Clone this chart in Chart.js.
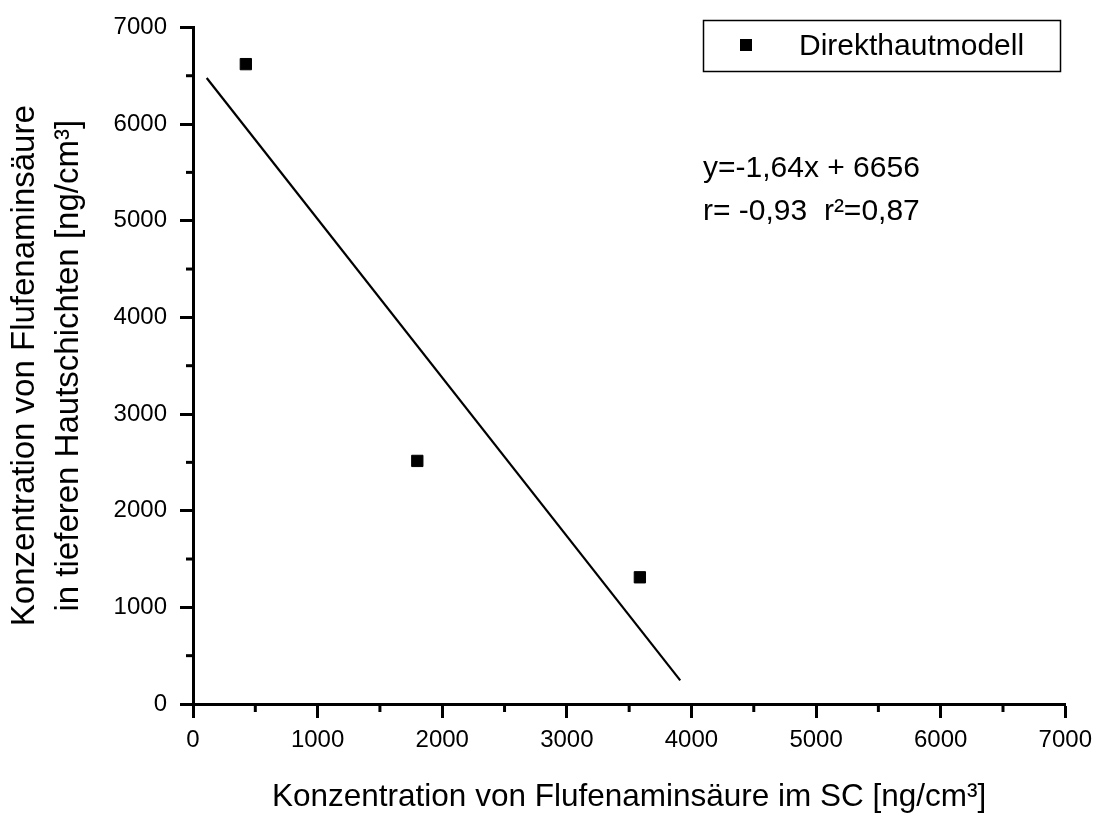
<!DOCTYPE html>
<html>
<head>
<meta charset="utf-8">
<script src="https://cdn.jsdelivr.net/npm/chart.js@4/dist/chart.umd.min.js"></script>
<style>
  html, body { margin: 0; padding: 0; background: #fff; }
  #wrap { width: 1100px; height: 816px; position: relative; }
</style>
</head>
<body>
<div id="wrap"><canvas id="c" width="1100" height="816"></canvas></div>
<script>
// ---- data ----
const seriesName = 'Direkthautmodell';
const xValues = [424, 1800, 3586];
const yValues = [6620, 2515, 1311];
const fitX = [110, 3910];
const fitY = [6476, 244];
const xTicks = [0, 1000, 2000, 3000, 4000, 5000, 6000, 7000];
const yTicks = [0, 1000, 2000, 3000, 4000, 5000, 6000, 7000];
const minorTicks = [500, 1500, 2500, 3500, 4500, 5500, 6500];
const equationLines = ['y=-1,64x + 6656', 'r= -0,93  r²=0,87'];
const xTitle = 'Konzentration von Flufenaminsäure im SC [ng/cm³]';
const yTitle = ['Konzentration von Flufenaminsäure', 'in tieferen Hautschichten [ng/cm³]'];

const FONT = '"Liberation Sans", Arial, sans-serif';
Chart.defaults.color = '#000';
Chart.defaults.font.family = FONT;

const scatterData = xValues.map((x, i) => ({ x: x, y: yValues[i] }));
const fitData = fitX.map((x, i) => ({ x: x, y: fitY[i] }));

const extrasPlugin = {
  id: 'extras',
  afterDraw(chart) {
    const ctx = chart.ctx;
    const xs = chart.scales.x, ys = chart.scales.y;
    const ca = chart.chartArea;
    ctx.save();
    // minor ticks
    ctx.strokeStyle = '#000';
    ctx.lineWidth = 3;
    minorTicks.forEach(v => {
      const px = xs.getPixelForValue(v);
      ctx.beginPath(); ctx.moveTo(px, ca.bottom); ctx.lineTo(px, ca.bottom + 8); ctx.stroke();
      const py = ys.getPixelForValue(v);
      ctx.beginPath(); ctx.moveTo(ca.left, py); ctx.lineTo(ca.left - 7, py); ctx.stroke();
    });
    // legend box
    ctx.lineWidth = 1.5;
    ctx.strokeRect(703.5, 20.5, 357, 51);
    ctx.fillStyle = '#000';
    ctx.fillRect(740, 39, 12, 12);
    ctx.font = '30px ' + FONT;
    ctx.textBaseline = 'alphabetic';
    ctx.textAlign = 'left';
    ctx.fillText(chart.data.datasets[0].label, 799, 55);
    // equation text
    ctx.font = '30px ' + FONT;
    ctx.fillText(equationLines[0], 703, 177);
    ctx.fillText(equationLines[1], 703, 220);
    ctx.restore();
  }
};

new Chart(document.getElementById('c'), {
  type: 'scatter',
  data: {
    datasets: [
      {
        label: seriesName,
        data: scatterData,
        pointStyle: 'rect',
        pointRadius: 8,
        pointHoverRadius: 8,
        backgroundColor: '#000',
        borderColor: '#000',
        borderWidth: 1,
        showLine: false
      },
      {
        label: 'fit',
        type: 'line',
        data: fitData,
        borderColor: '#000',
        borderWidth: 2.2,
        pointRadius: 0,
        fill: false,
        tension: 0
      }
    ]
  },
  options: {
    responsive: false,
    animation: false,
    events: [],
    layout: { padding: { top: 22, right: 33, left: 0, bottom: 0 } },
    plugins: {
      legend: { display: false },
      tooltip: { enabled: false }
    },
    scales: {
      x: {
        type: 'linear',
        min: 0, max: 7000,
        afterBuildTicks: s => { s.ticks = xTicks.map(v => ({ value: v })); },
        afterFit: s => { s.height = 112; },
        ticks: { font: { size: 24 }, color: '#000', padding: 8, maxRotation: 0, callback: v => String(v) },
        grid: { drawOnChartArea: false, drawTicks: true, tickLength: 14, tickWidth: 3, tickColor: '#000' },
        border: { display: true, color: '#000', width: 3 },
        title: { display: true, text: xTitle, font: { size: 31.5 }, color: '#000', padding: { top: 0, bottom: 0 } }
      },
      y: {
        type: 'linear',
        min: 0, max: 7000,
        afterBuildTicks: s => { s.ticks = yTicks.map(v => ({ value: v })); },
        afterFit: s => { s.width = 193; },
        ticks: { font: { size: 24 }, color: '#000', padding: 13, callback: v => String(v) },
        grid: { drawOnChartArea: false, drawTicks: true, tickLength: 13, tickWidth: 3, tickColor: '#000' },
        border: { display: true, color: '#000', width: 3 },
        title: { display: true, text: yTitle, font: { size: 33, lineHeight: 1.33 }, color: '#000', padding: { top: 3, bottom: 0 } }
      }
    }
  },
  plugins: [extrasPlugin]
});
</script>
</body>
</html>
